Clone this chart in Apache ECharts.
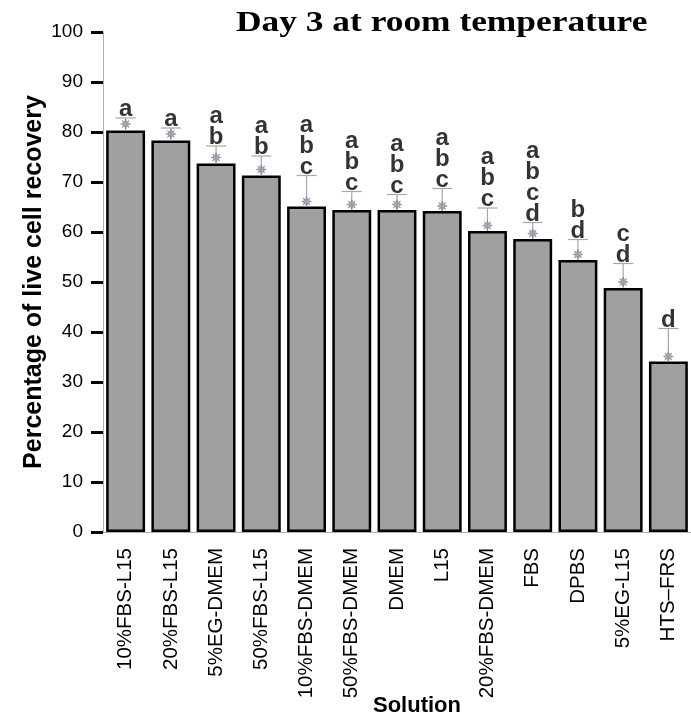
<!DOCTYPE html>
<html>
<head>
<meta charset="utf-8">
<script src="https://cdn.jsdelivr.net/npm/echarts@6/dist/echarts.min.js"></script>
<style>
  html, body { margin: 0; padding: 0; background: #fff; }
  #chart { width: 691px; height: 721px; }
</style>
</head>
<body>
<div id="chart"></div>
<script>
// Live cell recovery (%) after 3 days at room temperature, per storage solution
const solutions = ['10%FBS-L15', '20%FBS-L15', '5%EG-DMEM', '50%FBS-L15', '10%FBS-DMEM',
  '50%FBS-DMEM', 'DMEM', 'L15', '20%FBS-DMEM', 'FBS', 'DPBS', '5%EG-L15', 'HTS–FRS'];
const recovery = [80.3, 78.3, 73.7, 71.3, 65.1, 64.4, 64.4, 64.2, 60.2, 58.6, 54.4, 48.8, 34.1];
const pointMean = [81.6, 79.6, 74.9, 72.5, 66.1, 65.5, 65.5, 65.2, 61.3, 59.7, 55.5, 50.0, 35.1];
const errorSd = [1.2, 1.2, 2.3, 2.7, 5.2, 2.6, 2.0, 3.5, 3.5, 2.2, 3.0, 3.7, 5.6];
const groups = ['a', 'a', 'ab', 'ab', 'abc', 'abc', 'abc', 'abc', 'abc', 'abcd', 'bd', 'cd', 'd'];
const yTicks = { min: 0, max: 100, step: 10 };

const SANS = '"Liberation Sans", Arial, sans-serif';
const SERIF = '"Liberation Serif", "Times New Roman", serif';

const upper = pointMean.map((m, i) => +(m + errorSd[i]).toFixed(2));
const starPath = 'path://M0,-10 L2,-4 L7,-7 L4,-2 L10,0 L4,2 L7,7 L2,4 L0,10 L-2,4 L-7,7 L-4,2 L-10,0 L-4,-2 L-7,-7 L-2,-4 Z';

const chart = echarts.init(document.getElementById('chart'), null, { renderer: 'canvas' });

chart.setOption({
  animation: false,
  backgroundColor: '#ffffff',
  graphic: [{
    type: 'text',
    x: 236,
    y: 9,
    scaleX: 1.22,
    style: {
      text: 'Day 3 at room temperature',
      font: 'bold 29px ' + SERIF,
      fill: '#000'
    }
  }],
  grid: { left: 103, right: 0, top: 32, bottom: 189, containLabel: false, outerBoundsMode: 'none' },
  xAxis: {
    type: 'category',
    data: solutions,
    name: 'Solution',
    nameLocation: 'middle',
    nameGap: 163,
    nameMoveOverlap: false,
    nameTextStyle: { fontFamily: SANS, fontWeight: 'bold', fontSize: 22, color: '#000', padding: [0, 0, 0, 40] },
    axisLine: { lineStyle: { color: '#b0b0b0', width: 1 } },
    axisTick: { alignWithLabel: true, length: 11, lineStyle: { color: '#000', width: 3 } },
    axisLabel: { rotate: 90, margin: 16, fontFamily: SANS, fontSize: 20.5, color: '#000', interval: 0 }
  },
  yAxis: {
    type: 'value',
    min: yTicks.min,
    max: yTicks.max,
    interval: yTicks.step,
    name: 'Percentage of live cell recovery',
    nameLocation: 'middle',
    nameGap: 56,
    nameMoveOverlap: false,
    nameRotate: 90,
    nameTextStyle: { fontFamily: SANS, fontWeight: 'bold', fontSize: 25, color: '#000' },
    splitLine: { show: false },
    axisLine: { show: true, lineStyle: { color: '#b0b0b0', width: 1 } },
    axisTick: { show: true, length: 12, lineStyle: { color: '#000', width: 3 } },
    axisLabel: { margin: 20, fontFamily: SANS, fontSize: 19, color: '#000' }
  },
  series: [
    {
      name: 'Recovery',
      type: 'bar',
      data: recovery,
      barCategoryGap: '14%',
      itemStyle: { color: '#a0a0a0', borderColor: '#000', borderWidth: 2.5 },
      z: 2
    },
    {
      name: 'Error',
      type: 'custom',
      data: recovery.map((v, i) => [i, v, upper[i]]),
      z: 3,
      renderItem: function (params, api) {
        const base = api.coord([api.value(0), api.value(1)]);
        const top = api.coord([api.value(0), api.value(2)]);
        const half = 10;
        const style = { stroke: '#a8a8a8', lineWidth: 1.2 };
        return {
          type: 'group',
          children: [
            { type: 'line', shape: { x1: base[0], y1: base[1], x2: top[0], y2: top[1] }, style: style },
            { type: 'line', shape: { x1: top[0] - half, y1: top[1], x2: top[0] + half, y2: top[1] }, style: style }
          ]
        };
      }
    },
    {
      name: 'Mean',
      type: 'scatter',
      data: pointMean,
      symbol: starPath,
      symbolSize: 10,
      itemStyle: { color: '#8d98a6', borderColor: '#6d7480', borderWidth: 0.6 },
      z: 4
    },
    {
      name: 'Groups',
      type: 'scatter',
      data: upper,
      symbolSize: 0,
      z: 5,
      label: {
        show: true,
        position: 'top',
        distance: -2,
        formatter: p => groups[p.dataIndex].split('').join('\n'),
        fontFamily: SANS,
        fontWeight: 'bold',
        fontSize: 24,
        lineHeight: 21,
        color: '#000'
      }
    }
  ]
});
</script>
</body>
</html>
